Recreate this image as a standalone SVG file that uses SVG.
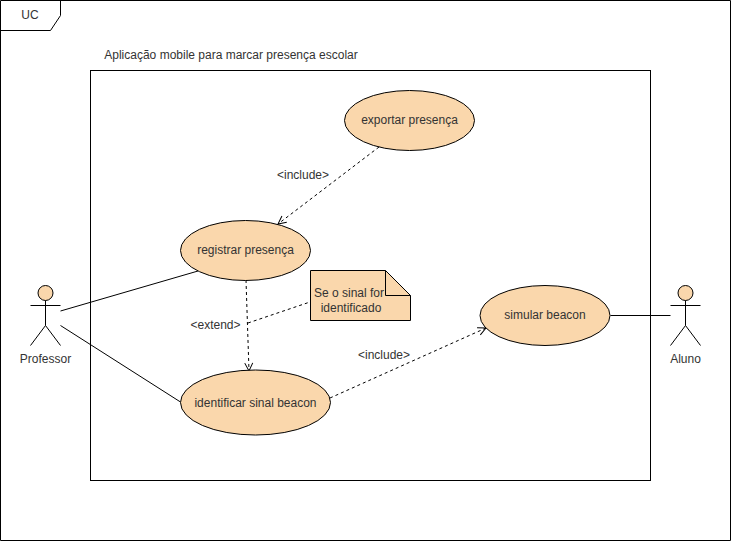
<svg xmlns="http://www.w3.org/2000/svg" width="732" height="542" viewBox="0 0 732 542">
<defs>
<style>
text{font-family:"Liberation Sans",Arial,sans-serif;font-size:12px;fill:#333;text-anchor:middle}
.s{fill:#fad7ac;stroke:#000;stroke-width:1}
.l{fill:none;stroke:#000;stroke-width:1}
.d{fill:none;stroke:#000;stroke-width:1;stroke-dasharray:3 3}
.lb{fill:#fff}
</style>
<marker id="open" markerUnits="userSpaceOnUse" markerWidth="12" markerHeight="12" refX="9" refY="5" orient="auto" overflow="visible"><path d="M1 1L9 5L1 9" fill="none" stroke="#000"/></marker>
</defs>
<rect width="732" height="542" fill="#fff"/>
<g id="frame"><path class="l" d="M.5 .5H730.5V540.5H.5Z"/><path class="l" d="M.5 30.5H50.5L60.5 15.5V.5"/><text x="30" y="19">UC</text></g>
<g id="system"><rect class="l" x="90.5" y="70.5" width="560" height="410"/><text x="231" y="59">Aplicação mobile para marcar presença escolar</text></g>
<g id="connectors">
<path class="l" d="M60.500 311L198 271"/>
<path class="l" d="M60.500 325.500L180.500 402"/>
<path class="l" d="M610.500 315.500H670.500"/>
<path class="d" marker-end="url(#open)" d="M379 147L278 224"/>
<path class="d" marker-end="url(#open)" d="M246 280L249 371"/>
<path class="d" d="M248 323L310 302"/>
<path class="d" marker-end="url(#open)" d="M330 398L486 328"/>
<text x="303" y="179">&lt;include&gt;</text>
<text x="215.500" y="329">&lt;extend&gt;</text>
<text x="384" y="359">&lt;include&gt;</text>
</g>
<g id="exportar"><ellipse class="s" cx="409.500" cy="120.500" rx="65" ry="30"/><text x="409.500" y="124">exportar presença</text></g>
<g id="registrar"><ellipse class="s" cx="245.500" cy="250.500" rx="65" ry="30"/><text x="245.500" y="254">registrar presença</text></g>
<g id="identificar"><ellipse class="s" cx="255.500" cy="402.500" rx="75" ry="32.500"/><text x="255.500" y="407">identificar sinal beacon</text></g>
<g id="simular"><ellipse class="s" cx="545" cy="315.500" rx="65" ry="30"/><text x="545" y="319">simular beacon</text></g>
<g id="note"><path class="s" d="M310.500 270.500H385.500L410.500 295.500V320.500H310.500Z"/><path class="l" d="M385.500 270.500V295.500H410.500"/><text x="349" y="297">Se o sinal for</text><text x="351" y="312">identificado</text></g>
<g id="professor"><circle class="s" cx="45.500" cy="293" r="7.500"/><path class="l" d="M45.500 300.500V325.500M30.500 305.500H60.500M45.500 325.500L30.500 345.500M45.500 325.500L60.500 345.500"/><text x="45.500" y="363">Professor</text></g>
<g id="aluno"><circle class="s" cx="685.500" cy="293" r="7.500"/><path class="l" d="M685.500 300.500V325.500M670.500 305.500H700.500M685.500 325.500L670.500 345.500M685.500 325.500L700.500 345.500"/><text x="685.500" y="363">Aluno</text></g>
</svg>
